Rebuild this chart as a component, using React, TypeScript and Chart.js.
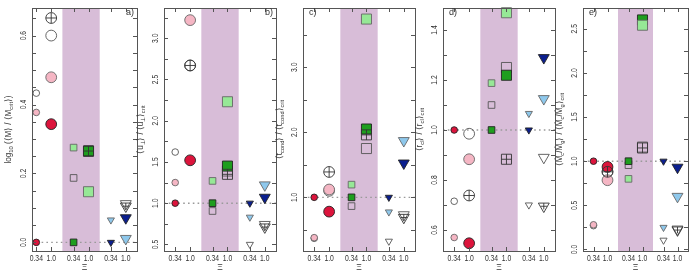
import React, { useEffect, useRef } from "react";
import { Chart, registerables } from "chart.js";
Chart.register(...registerables);

// ---------------- data ----------------
// Xi values and their offsets inside each marker group
const xiLabels = ["0.34", "1.0"];
const xiOffsets = [-0.2, 0.2];
const groupCenters = [0, 1, 2]; // circles | squares (shaded band) | triangles
const shadeRange = [0.5, 1.5];

// value order in every series:
// [circle Xi=0.34, circle Xi=1.0, square 0.34, square 1.0, triangle 0.34, triangle 1.0]
const darkA = [0.0, 0.343, 0.0, 0.265, 0.0, 0.071];
const lightA = [0.377, 0.479, 0.275, 0.147, 0.065, 0.011];
const openA = [0.433, 0.6, 0.187, 0.265, null, 0.112];
const crossA = [null, 0.651, null, 0.265, null, 0.105];

const darkB = [1.0, 1.52, 1.0, 1.45, 1.0, 1.07];
const lightB = [1.25, 3.22, 1.27, 2.23, 0.83, 1.22];
const openB = [1.62, 2.67, 0.905, 1.39, 0.5, 0.74];
const crossB = [null, 2.67, null, 1.35, null, 0.71];

const darkC = [1.0, 0.78, 1.0, 2.05, 1.0, 1.525];
const lightC = [0.38, 1.12, 1.195, 3.74, 0.775, 1.87];
const openC = [0.37, 1.1, 0.865, 1.75, 0.325, 0.73];
const crossC = [null, 1.39, null, 1.96, null, 0.69];

const darkD = [1.0, 0.547, 1.0, 1.219, 1.0, 1.289];
const lightD = [0.57, 0.883, 1.1875, 1.469, 1.066, 1.125];
const openD = [0.715, 0.985, 1.1, 1.25, 0.7, 0.89];
const crossD = [null, 0.738, null, 0.883, null, 0.695];

const darkE = [1.0, 0.935, 1.0, 2.6, 1.0, 0.93];
const lightE = [0.28, 0.785, 0.8, 2.54, 0.25, 0.6];
const openE = [0.27, 0.88, 0.955, 1.16, 0.105, 0.23];
const crossE = [null, 0.88, null, 1.15, null, 0.22];

// y tick labels and minor tick steps
const yTicksA = [0.0, 0.2, 0.4, 0.6];
const yTicksB = [0.5, 1.0, 1.5, 2.0, 2.5, 3.0];
const yTicksC = [1.0, 2.0, 3.0];
const yTicksD = [0.6, 0.8, 1.0, 1.2, 1.4];
const yTicksE = [0.0, 0.5, 1.0, 1.5, 2.0, 2.5];

type Part = { t: string; sub?: boolean };
const titleA: Part[] = [
  { t: "log" }, { t: "10", sub: true }, { t: " (\u27E8M\u27E9 / \u27E8M" }, { t: "crit", sub: true }, { t: "\u27E9)" },
];
const titleB: Part[] = [
  { t: "\u27E8u" }, { t: "\u22A5", sub: true }, { t: "\u27E9 / \u27E8u" }, { t: "\u22A5", sub: true }, { t: "\u27E9" }, { t: "crit", sub: true },
];
const titleC: Part[] = [
  { t: "\u27E8t" }, { t: "cond", sub: true }, { t: "\u27E9 / \u27E8t" }, { t: "cond", sub: true }, { t: "\u27E9" }, { t: "crit", sub: true },
];
const titleD: Part[] = [
  { t: "\u27E8r" }, { t: "cl", sub: true }, { t: "\u27E9 / \u27E8r" }, { t: "cl", sub: true }, { t: "\u27E9" }, { t: "crit", sub: true },
];
const titleE: Part[] = [
  { t: "\u27E8\u1E40" }, { t: "c", sub: true }, { t: "/\u1E40" }, { t: "g", sub: true }, { t: "\u27E9 / \u27E8\u1E40" },
  { t: "c", sub: true }, { t: "/\u1E40" }, { t: "g", sub: true }, { t: "\u27E9" }, { t: "crit", sub: true },
];

// ---------------- layout / style ----------------
const W = 696;
const H = 275;
const TOP = 2;
const BOTTOM = 251;
const FONT = '"Liberation Sans", Arial, Helvetica, sans-serif';
const TEXT = "#333";
const AXIS = "#555";
const SHADE = "#D8BDD8";
const CONDENSE = 0.8;

type Panel = {
  left: number; right: number; xMin: number; xMax: number;
  yMin: number; yMax: number; minor: number; yTicks: number[]; ref: number;
  title: Part[]; label: string; labelRight: boolean;
  dark: (number | null)[]; light: (number | null)[]; open: (number | null)[]; cross: (number | null)[];
};

const panels: Panel[] = [
  { left: 32, right: 137, xMin: -0.315, xMax: 2.5, yMin: -0.025, yMax: 0.68, minor: 0.05, yTicks: yTicksA, ref: 0,
    title: titleA, label: "a)", labelRight: true, dark: darkA, light: lightA, open: openA, cross: crossA },
  { left: 164, right: 276, xMin: -0.5, xMax: 2.5, yMin: 0.42, yMax: 3.367, minor: 0.25, yTicks: yTicksB, ref: 1,
    title: titleB, label: "b)", labelRight: true, dark: darkB, light: lightB, open: openB, cross: crossB },
  { left: 303, right: 415, xMin: -0.5, xMax: 2.5, yMin: 0.175, yMax: 3.91, minor: 0.5, yTicks: yTicksC, ref: 1,
    title: titleC, label: "c)", labelRight: false, dark: darkC, light: lightC, open: openC, cross: crossC },
  { left: 443, right: 555, xMin: -0.5, xMax: 2.5, yMin: 0.516, yMax: 1.488, minor: 0.1, yTicks: yTicksD, ref: 1,
    title: titleD, label: "d)", labelRight: false, dark: darkD, light: lightD, open: openD, cross: crossD },
  { left: 583, right: 693, xMin: -0.5, xMax: 2.5, yMin: -0.017, yMax: 2.735, minor: 0.25, yTicks: yTicksE, ref: 1,
    title: titleE, label: "e)", labelRight: false, dark: darkE, light: lightE, open: openE, cross: crossE },
];

const shapes = ["circle", "rect", "triangle"];
const radii: Record<string, number[]> = { circle: [3.3, 5.4], rect: [4.7, 7.1], triangle: [4.1, 6.3] };
const darkFill = ["#DC143C", "#1E9E1E", "#0B1F8F"];
const lightFill = ["#F5B6C4", "#96E896", "#8EC8EC"];

function buildDatasets(p: Panel) {
  const ds: any[] = [];
  const series = [
    { vals: p.open, fill: () => "rgba(255,255,255,0)", border: "#555", order: 3 },
    { vals: p.dark, fill: (g: number) => darkFill[g], border: "#222", order: 2 },
    { vals: p.light, fill: (g: number) => lightFill[g], border: "#666", order: 1 },
    { vals: p.cross, fill: () => "rgba(255,255,255,0)", border: "#333", order: 0, cross: true },
  ];
  groupCenters.forEach((gc, g) => {
    const shape = shapes[g];
    series.forEach((s: any) => {
      const data: { x: number; y: number }[] = [];
      const r: number[] = [];
      xiOffsets.forEach((off, k) => {
        const v = s.vals[2 * g + k];
        if (v === null || v === undefined) return;
        data.push({ x: gc + off, y: v });
        r.push(radii[shape][k]);
      });
      if (!data.length) return;
      ds.push({
        data, order: s.order, clip: false, showLine: false,
        pointStyle: shape, pointRotation: g === 2 ? 180 : 0,
        pointRadius: r, pointHoverRadius: r,
        pointBackgroundColor: s.fill(g), pointBorderColor: s.border, pointBorderWidth: 0.9,
      });
      if (s.cross) {
        const f = shape === "circle" ? 1 : shape === "rect" ? Math.SQRT1_2 : 0.5;
        ds.push({
          data, order: s.order, clip: false, showLine: false,
          pointStyle: "cross", pointRotation: 0,
          pointRadius: r.map((v) => v * f), pointHoverRadius: r.map((v) => v * f),
          pointBackgroundColor: "rgba(0,0,0,0)", pointBorderColor: s.border, pointBorderWidth: 0.9,
        });
      }
    });
  });
  return ds;
}

function drawRich(ctx: CanvasRenderingContext2D, parts: Part[], x: number, y: number, size: number) {
  ctx.save();
  ctx.translate(x, y);
  ctx.rotate(-Math.PI / 2);
  ctx.scale(0.95, 1);
  ctx.textBaseline = "middle";
  ctx.textAlign = "left";
  const ws = parts.map((pt) => {
    ctx.font = `${pt.sub ? size * 0.72 : size}px ${FONT}`;
    return ctx.measureText(pt.t).width;
  });
  const total = ws.reduce((a, b) => a + b, 0);
  let cx = -total / 2;
  parts.forEach((pt, i) => {
    ctx.font = `${pt.sub ? size * 0.72 : size}px ${FONT}`;
    ctx.fillText(pt.t, cx, pt.sub ? size * 0.32 : 0);
    cx += ws[i];
  });
  ctx.restore();
}

function condensedText(ctx: CanvasRenderingContext2D, t: string, x: number, y: number, rot: number) {
  ctx.save();
  ctx.translate(x, y);
  if (rot) ctx.rotate(rot);
  ctx.scale(CONDENSE, 1);
  ctx.fillText(t, 0, 0);
  ctx.restore();
}

function makeDeco(p: Panel) {
  return {
    id: "deco",
    beforeDatasetsDraw(chart: any) {
      const { ctx, chartArea: a, scales } = chart;
      const x = scales.x, y = scales.y;
      ctx.save();
      ctx.fillStyle = SHADE;
      const x0 = x.getPixelForValue(shadeRange[0]);
      const x1 = x.getPixelForValue(shadeRange[1]);
      ctx.fillRect(x0, a.top, x1 - x0, a.bottom - a.top);
      ctx.strokeStyle = "#9a9a9a";
      ctx.lineWidth = 1.4;
      ctx.setLineDash([1.6, 3.2]);
      const yr = y.getPixelForValue(p.ref);
      ctx.beginPath();
      ctx.moveTo(a.left, yr);
      ctx.lineTo(a.right, yr);
      ctx.stroke();
      ctx.restore();
    },
    afterDraw(chart: any) {
      const { ctx, chartArea: a, scales } = chart;
      const x = scales.x, y = scales.y;
      ctx.save();
      ctx.strokeStyle = AXIS;
      ctx.lineWidth = 1;
      ctx.strokeRect(Math.round(a.left) + 0.5, Math.round(a.top) + 0.5, Math.round(a.right - a.left), Math.round(a.bottom - a.top));
      const TL = 4;
      ctx.beginPath();
      groupCenters.forEach((gc) => xiOffsets.forEach((off) => {
        const px = Math.round(x.getPixelForValue(gc + off)) + 0.5;
        ctx.moveTo(px, a.bottom); ctx.lineTo(px, a.bottom - TL);
        ctx.moveTo(px, a.top); ctx.lineTo(px, a.top + TL);
      }));
      const start = Math.ceil(p.yMin / p.minor - 1e-6);
      for (let k = start; k * p.minor <= p.yMax + 1e-9; k++) {
        const py = Math.round(y.getPixelForValue(k * p.minor)) + 0.5;
        ctx.moveTo(a.left, py); ctx.lineTo(a.left + TL, py);
        ctx.moveTo(a.right, py); ctx.lineTo(a.right - TL, py);
      }
      ctx.stroke();

      ctx.fillStyle = TEXT;
      ctx.font = `8.5px ${FONT}`;
      ctx.textAlign = "center";
      ctx.textBaseline = "middle";
      groupCenters.forEach((gc) => xiOffsets.forEach((off, k) => {
        condensedText(ctx, xiLabels[k], x.getPixelForValue(gc + off), 259, 0);
      }));
      ctx.fillText("\u039E", (a.left + a.right) / 2, 268);
      p.yTicks.forEach((v) => {
        condensedText(ctx, v.toFixed(1), a.left - 8, y.getPixelForValue(v), -Math.PI / 2);
      });
      drawRich(ctx, p.title, a.left - 23, (a.top + a.bottom) / 2, 8.5);
      ctx.font = `9px ${FONT}`;
      ctx.textAlign = p.labelRight ? "right" : "left";
      ctx.fillText(p.label, p.labelRight ? a.right - 3 : a.left + 6, 13);
      ctx.restore();
    },
  };
}

export default function App() {
  const refs = useRef<(HTMLCanvasElement | null)[]>([]);
  useEffect(() => {
    const charts = panels.map((p, i) => {
      const canvas = refs.current[i]!;
      return new Chart(canvas, {
        type: "scatter",
        data: { datasets: buildDatasets(p) },
        options: {
          responsive: false,
          animation: false,
          devicePixelRatio: 1,
          events: [],
          layout: { padding: { left: p.left, right: W - p.right, top: TOP, bottom: H - BOTTOM } },
          plugins: { legend: { display: false }, tooltip: { enabled: false }, title: { display: false } },
          scales: {
            x: { type: "linear", min: p.xMin, max: p.xMax, display: false },
            y: { type: "linear", min: p.yMin, max: p.yMax, display: false },
          },
        } as any,
        plugins: [makeDeco(p)],
      });
    });
    return () => charts.forEach((c) => c.destroy());
  }, []);
  return (
    <div style={{ position: "absolute", left: 0, top: 0, width: W, height: H, background: "#fff" }}>
      {panels.map((_, i) => (
        <canvas
          key={i}
          ref={(el) => { refs.current[i] = el; }}
          width={W}
          height={H}
          style={{ position: "absolute", left: 0, top: 0, width: W, height: H }}
        />
      ))}
    </div>
  );
}
